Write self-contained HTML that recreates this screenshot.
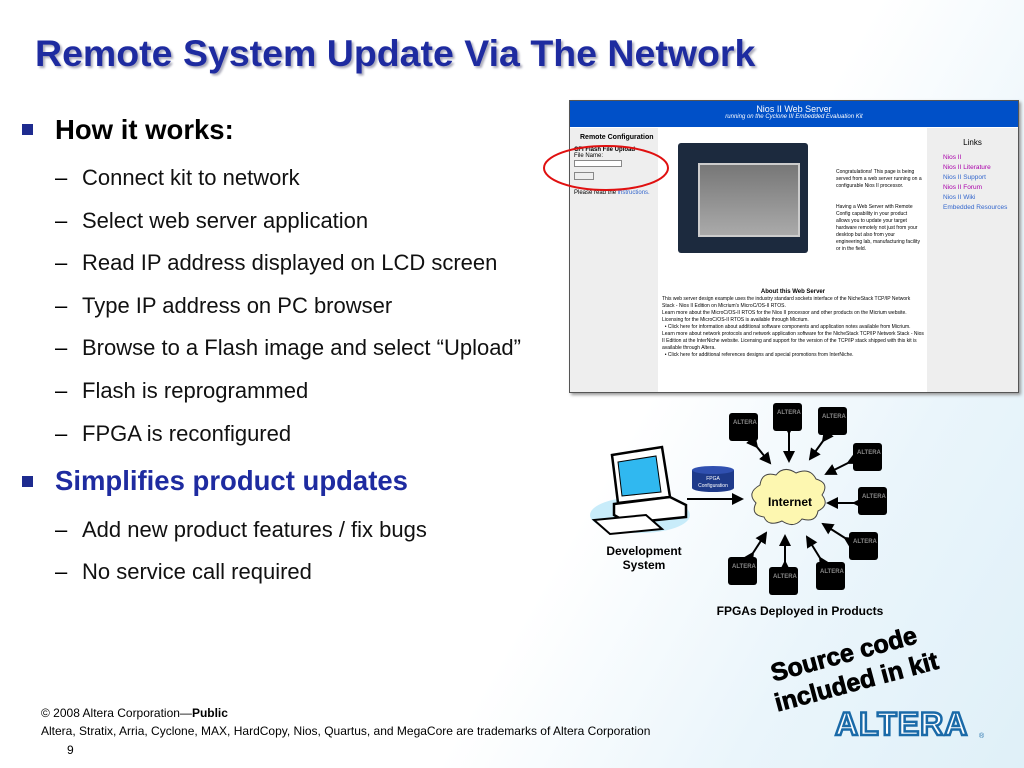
<!DOCTYPE html>
<html><head><meta charset="utf-8"><style>
body{margin:0;width:1024px;height:768px;overflow:hidden;position:relative;font-family:"Liberation Sans",sans-serif;background:linear-gradient(120deg,#fff 0%,#fff 60%,#eaf5fb 80%,#dff0f8 100%);}
.a{position:absolute;white-space:nowrap}
.t{left:35px;top:32px;font-size:37.5px;font-weight:bold;color:#1e2ba0;text-shadow:2px 2px 2px #aab}
.b{width:11px;height:11px;background:#1e2b8f;left:22px}
.h{font-size:27.5px;font-weight:bold;left:55px}
.s{font-size:22px;left:82px;color:#111}
.d{font-size:22px;left:55px}
.ws{position:absolute;left:569px;top:100px;width:448px;height:291px;border:1px solid #555;background:#fff;box-shadow:2px 2px 3px #999;font-size:6px;overflow:hidden}
.chip{position:absolute;width:29px;height:28px;background:#000;border-radius:3px}
.chip:after{content:"ALTERA";position:absolute;left:4px;top:7px;font-size:6px;color:#888;font-weight:bold}
</style></head><body>
<div class="a t">Remote System Update Via The Network</div>
<div class="a b" style="top:124px"></div>
<div class="a h" style="top:114px">How it works:</div>
<div class="a d" style="top:165px">–</div><div class="a s" style="top:165px">Connect kit to network</div>
<div class="a d" style="top:208px">–</div><div class="a s" style="top:208px">Select web server application</div>
<div class="a d" style="top:250px">–</div><div class="a s" style="top:250px">Read IP address displayed on LCD screen</div>
<div class="a d" style="top:293px">–</div><div class="a s" style="top:293px">Type IP address on PC browser</div>
<div class="a d" style="top:335px">–</div><div class="a s" style="top:335px">Browse to a Flash image and select “Upload”</div>
<div class="a d" style="top:378px">–</div><div class="a s" style="top:378px">Flash is reprogrammed</div>
<div class="a d" style="top:421px">–</div><div class="a s" style="top:421px">FPGA is reconfigured</div>
<div class="a b" style="top:476px"></div>
<div class="a h" style="top:465px;color:#1e2ba0">Simplifies product updates</div>
<div class="a d" style="top:517px">–</div><div class="a s" style="top:517px">Add new product features / fix bugs</div>
<div class="a d" style="top:559px">–</div><div class="a s" style="top:559px">No service call required</div>

<div class="ws">
<div style="position:absolute;left:0;top:0;width:448px;height:26px;background:#0050c8;color:#fff;text-align:center"><div style="font-size:9px;margin-top:3px">Nios II Web Server</div><div style="font-size:6px;font-style:italic">running on the Cyclone III Embedded Evaluation Kit</div></div>
<div style="position:absolute;left:0;top:27px;width:88px;height:264px;background:#eee"><div style="font-weight:bold;font-size:7px;margin:6px 0 0 10px">Remote Configuration</div><div style="font-weight:bold;margin:6px 0 0 4px">CFI Flash File Upload</div><div style="margin-left:4px">File Name:</div><div style="margin:1px 4px;width:46px;height:5px;border:1px solid #888;background:#fff;display:inline-block"></div><div style="margin:2px 4px;width:18px;height:6px;border:1px solid #888"></div><div style="margin:10px 4px">Please read the <span style="color:#36c">instructions.</span></div></div>
<div style="position:absolute;left:357px;top:27px;width:91px;height:264px;background:#eee"><div style="font-size:8px;text-align:center;margin-top:10px">Links</div><div style="color:#a0a;margin:6px 0 0 16px;line-height:10px;font-size:6.5px">Nios II<br>Nios II Literature<br><span style="color:#36c">Nios II Support</span><br>Nios II Forum<br><span style="color:#36c">Nios II Wiki<br>Embedded Resources</span></div></div>
<div style="position:absolute;left:108px;top:42px;width:130px;height:110px;background:#1c2a3e;border-radius:3px"><div style="position:absolute;left:20px;top:20px;width:98px;height:70px;background:linear-gradient(#777,#aaa);border:2px solid #ccc"></div></div>
<div style="position:absolute;left:266px;top:68px;width:86px;line-height:7px;font-size:5px">Congratulations! This page is being served from a web server running on a configurable Nios II processor.<br><br><br>Having a Web Server with Remote Config capability in your product allows you to update your target hardware remotely not just from your desktop but also from your engineering lab, manufacturing facility or in the field.</div>
<div style="position:absolute;left:92px;top:188px;width:262px;font-size:5px;line-height:7px"><div style="text-align:center;font-weight:bold;font-size:6px">About this Web Server</div>This web server design example uses the industry standard sockets interface of the NicheStack TCP/IP Network Stack - Nios II Edition on Micrium's MicroC/OS-II RTOS.<br>Learn more about the MicroC/OS-II RTOS for the Nios II processor and other products on the Micrium website. Licensing for the MicroC/OS-II RTOS is available through Micrium.<br>&nbsp;&nbsp;• Click here for information about additional software components and application notes available from Micrium.<br>Learn more about network protocols and network application software for the NicheStack TCP/IP Network Stack - Nios II Edition at the InterNiche website. Licensing and support for the version of the TCP/IP stack shipped with this kit is available through Altera.<br>&nbsp;&nbsp;• Click here for additional references designs and special promotions from InterNiche.</div>
</div>
<svg class="a" style="left:0;top:0" width="1024" height="768">
<ellipse cx="606" cy="168" rx="62" ry="22" fill="none" stroke="#e01010" stroke-width="2"/>
<defs><marker id="m" markerWidth="6" markerHeight="6" refX="5" refY="3" orient="auto"><path d="M0,0L6,3L0,6z" fill="#000"/></marker></defs>
<g stroke="#000" stroke-width="2" marker-end="url(#m)" marker-start="url(#m)">
<line x1="757" y1="447" x2="770" y2="463"/><line x1="789" y1="433" x2="789" y2="461"/><line x1="823" y1="441" x2="810" y2="459"/><line x1="848" y1="463" x2="826" y2="474"/><line x1="854" y1="503" x2="828" y2="503"/><line x1="845" y1="538" x2="823" y2="524"/><line x1="820" y1="558" x2="807" y2="537"/><line x1="785" y1="562" x2="785" y2="536"/><line x1="753" y1="553" x2="766" y2="533"/>
</g>
<line x1="687" y1="499" x2="742" y2="499" stroke="#000" stroke-width="2" marker-end="url(#m)"/>
<path d="M760,485 q2,-14 16,-10 q8,-10 20,-2 q14,-6 20,6 q14,4 6,16 q8,10 -4,16 q-2,12 -16,8 q-8,10 -20,2 q-14,6 -18,-4 q-14,-2 -8,-14 q-10,-10 4,-18z" fill="#fdf7b0" stroke="#444"/>
<text x="790" y="506" font-size="12" font-weight="bold" text-anchor="middle" font-family="Liberation Sans">Internet</text>
<path d="M692,470 v18 a21,4 0 0 0 42,0 v-18z" fill="#1e3a8a"/><ellipse cx="713" cy="470" rx="21" ry="4" fill="#3050b0"/>
<text x="713" y="480" font-size="5" fill="#fff" text-anchor="middle" font-family="Liberation Sans">FPGA</text><text x="713" y="487" font-size="5" fill="#fff" text-anchor="middle" font-family="Liberation Sans">Configuration</text>
<ellipse cx="640" cy="515" rx="50" ry="18" fill="#c8ecfa"/>
<path d="M612,455 l50,-8 l8,50 l-52,6z" fill="#fff" stroke="#000" stroke-width="2.5"/>
<path d="M618,462 l38,-6 l5,36 l-39,4z" fill="#30b8f0" stroke="#000"/>
<path d="M614,504 l56,-7 l16,8 l0,12 l-58,6 l-14,-8z" fill="#fff" stroke="#000" stroke-width="2.5"/>
<path d="M594,520 l52,-5 l16,14 l-52,5z" fill="#fff" stroke="#000" stroke-width="2"/>
<text x="644" y="555" font-size="12" font-weight="bold" text-anchor="middle" font-family="Liberation Sans">Development</text>
<text x="644" y="569" font-size="12" font-weight="bold" text-anchor="middle" font-family="Liberation Sans">System</text>
<text x="800" y="615" font-size="12" font-weight="bold" text-anchor="middle" font-family="Liberation Sans">FPGAs Deployed in Products</text>
<g transform="rotate(-15 855 665)" font-family="Liberation Sans" font-weight="900" font-size="25" stroke="#000" stroke-width="0.8"><text x="772" y="660">Source code</text><text x="768" y="690">included in kit</text></g>
<text x="835" y="735" font-size="32" font-weight="bold" fill="#fff" stroke="#1a6aa8" stroke-width="2.5" font-family="Liberation Sans" letter-spacing="1">ALTERA</text>
<text x="979" y="738" font-size="7" fill="#1a6aa8" font-family="Liberation Sans">®</text>
</svg>
<div class="chip" style="left:729px;top:413px"></div><div class="chip" style="left:773px;top:403px"></div><div class="chip" style="left:818px;top:407px"></div><div class="chip" style="left:853px;top:443px"></div><div class="chip" style="left:858px;top:487px"></div><div class="chip" style="left:849px;top:532px"></div><div class="chip" style="left:816px;top:562px"></div><div class="chip" style="left:769px;top:567px"></div><div class="chip" style="left:728px;top:557px"></div>
<div class="a" style="left:41px;top:706px;font-size:12px">© 2008 Altera Corporation—<b>Public</b></div>
<div class="a" style="left:41px;top:724px;font-size:12px">Altera, Stratix, Arria, Cyclone, MAX, HardCopy, Nios, Quartus, and MegaCore are trademarks of Altera Corporation</div>
<div class="a" style="left:67px;top:743px;font-size:12px">9</div>
</body></html>
